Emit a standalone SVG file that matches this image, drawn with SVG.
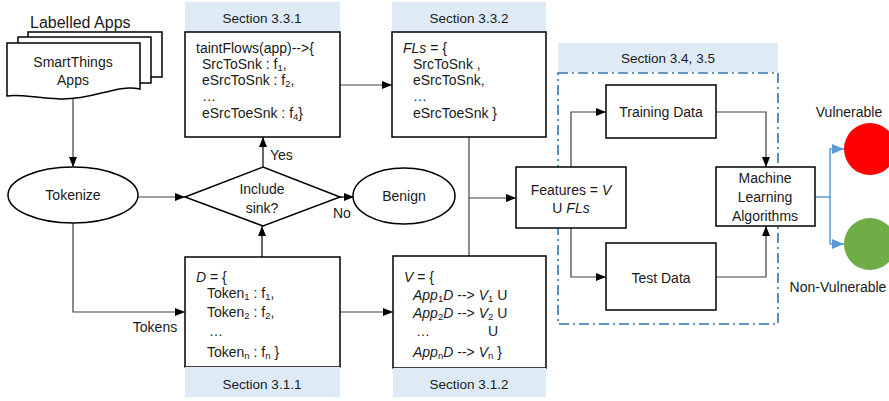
<svg xmlns="http://www.w3.org/2000/svg" width="889" height="401" viewBox="0 0 889 401">
<style>
text{font-family:"Liberation Sans",Arial,sans-serif;font-size:14px;fill:#1a1a1a}
.sec{font-size:13.5px}
.c{text-anchor:middle}
.s{font-size:9.5px}
.box{fill:#fff;stroke:#000;stroke-width:1.5}
.hdr{fill:#deebf7;stroke:none}
.ln{fill:none;stroke:#000;stroke-width:1.2}
.gl{fill:none;stroke:#404040;stroke-width:1.2}
.bl{fill:none;stroke:#5b9bd5;stroke-width:1.5}
.i{font-style:italic}
</style>
<defs>
<marker id="ah" markerUnits="userSpaceOnUse" markerWidth="10" markerHeight="8" refX="10" refY="4" orient="auto"><path d="M0,0 L10,4 L0,8 z" fill="#000"/></marker>
<marker id="ab" markerUnits="userSpaceOnUse" markerWidth="12" markerHeight="10" refX="12" refY="5" orient="auto"><path d="M0,0 L12,5 L0,10 z" fill="#5b9bd5"/></marker>
</defs>

<g id="connectors">
<path class="gl" d="M73,99 V167" marker-end="url(#ah)"/>
<path class="gl" d="M138,197 H185" marker-end="url(#ah)"/>
<path class="ln" d="M263,167 V137" marker-end="url(#ah)"/>
<path class="ln" d="M340,197 H354" marker-end="url(#ah)"/>
<path class="gl" d="M340,85 H392" marker-end="url(#ah)"/>
<path class="gl" d="M73,223 V312 H185" marker-end="url(#ah)"/>
<path class="ln" d="M262,257 V226" marker-end="url(#ah)"/>
<path class="gl" d="M340,312 H393" marker-end="url(#ah)"/>
<path class="gl" d="M469,137 V256"/>
<path class="gl" d="M469,198 H516" marker-end="url(#ah)"/>
<path class="gl" d="M571,167 V112 H606" marker-end="url(#ah)"/>
<path class="gl" d="M571,228 V277 H606" marker-end="url(#ah)"/>
<path class="gl" d="M716,112 H766 V167" marker-end="url(#ah)"/>
<path class="gl" d="M716,277 H766 V226" marker-end="url(#ah)"/>
<path class="bl" d="M815,197 H830 V149 H844" marker-end="url(#ab)"/>
<path class="bl" d="M830,197 V244 H844" marker-end="url(#ab)"/>
<text x="270" y="160">Yes</text>
<text x="333" y="218">No</text>
<text class="c" x="155" y="332">Tokens</text>
</g>

<g id="apps">
<text x="30" y="28" style="font-size:16px">Labelled Apps</text>
<path d="M28,37 V32 H162 V77 H151" fill="#fff" stroke="#000" stroke-width="1.5"/>
<path d="M18,43 V37 H151 V83 H140" fill="#fff" stroke="#000" stroke-width="1.5"/>
<path d="M7,43 H140 V89 C115,84 95,100 60,99 C35,98 20,94 7,96 Z" fill="#fff" stroke="#000" stroke-width="1.5"/>
<text class="c" x="73" y="67">SmartThings</text>
<text class="c" x="73" y="85">Apps</text>
</g>

<g id="tokenize">
<ellipse cx="73" cy="195" rx="65" ry="28" class="box"/>
<text class="c" x="73" y="200">Tokenize</text>
</g>

<g id="include-sink">
<path d="M185,197 L263,167 L340,197 L263,226 Z" class="box"/>
<text class="c" x="262" y="194">Include</text>
<text class="c" x="262" y="213">sink?</text>
</g>

<g id="benign">
<ellipse cx="404" cy="196" rx="51" ry="28" class="box"/>
<text class="c" x="404" y="201">Benign</text>
</g>

<g id="taintflows">
<rect x="185" y="2" width="155" height="30" class="hdr"/>
<text class="c sec" x="262" y="23">Section 3.3.1</text>
<rect x="185" y="32" width="155" height="105" class="box"/>
<text x="196" y="53">taintFlows(app)--&gt;{</text>
<text x="202" y="69">SrcToSnk : f<tspan class="s" dy="2">1</tspan><tspan dy="-2">,</tspan></text>
<text x="202" y="85">eSrcToSnk : f<tspan class="s" dy="2">2</tspan><tspan dy="-2">,</tspan></text>
<text x="202" y="101">…</text>
<text x="202" y="118">eSrcToeSnk : f<tspan class="s" dy="2">4</tspan><tspan dy="-2">}</tspan></text>
</g>

<g id="fls">
<rect x="392" y="2" width="154" height="30" class="hdr"/>
<text class="c sec" x="469" y="23">Section 3.3.2</text>
<rect x="392" y="32" width="154" height="105" class="box"/>
<text x="403" y="53"><tspan class="i">FLs</tspan> = {</text>
<text x="413" y="69">SrcToSnk ,</text>
<text x="413" y="85">eSrcToSnk,</text>
<text x="413" y="101">…</text>
<text x="413" y="118">eSrcToeSnk }</text>
</g>

<g id="d-set">
<rect x="185" y="257" width="155" height="110" class="box"/>
<rect x="185" y="367" width="155" height="30" class="hdr"/>
<text class="c sec" x="262" y="389">Section 3.1.1</text>
<text x="196" y="282"><tspan class="i">D</tspan> = {</text>
<text x="207" y="298">Token<tspan class="s" dy="2">1</tspan><tspan dy="-2"> : f</tspan><tspan class="s" dy="2">1</tspan><tspan dy="-2">,</tspan></text>
<text x="207" y="317">Token<tspan class="s" dy="2">2</tspan><tspan dy="-2"> : f</tspan><tspan class="s" dy="2">2</tspan><tspan dy="-2">,</tspan></text>
<text x="209" y="336">…</text>
<text x="207" y="357">Token<tspan class="s" dy="2">n</tspan><tspan dy="-2"> : f</tspan><tspan class="s" dy="2">n</tspan><tspan dy="-2"> }</tspan></text>
</g>

<g id="v-set">
<rect x="393" y="256" width="153" height="112" class="box"/>
<rect x="393" y="368" width="153" height="29" class="hdr"/>
<text class="c sec" x="469" y="389">Section 3.1.2</text>
<text x="404" y="282"><tspan class="i">V</tspan> = {</text>
<text x="413" y="300"><tspan class="i">App</tspan><tspan class="s" dy="2">1</tspan><tspan class="i" dy="-2">D</tspan> --&gt; <tspan class="i">V</tspan><tspan class="s" dy="2">1</tspan><tspan dy="-2"> U</tspan></text>
<text x="413" y="318"><tspan class="i">App</tspan><tspan class="s" dy="2">2</tspan><tspan class="i" dy="-2">D</tspan> --&gt; <tspan class="i">V</tspan><tspan class="s" dy="2">2</tspan><tspan dy="-2"> U</tspan></text>
<text x="416" y="336">…</text>
<text x="488" y="336">U</text>
<text x="413" y="357"><tspan class="i">App</tspan><tspan class="s" dy="2">n</tspan><tspan class="i" dy="-2">D</tspan> --&gt; <tspan class="i">V</tspan><tspan class="s" dy="2">n</tspan><tspan dy="-2"> }</tspan></text>
</g>

<g id="ml-section">
<rect x="558" y="43" width="220" height="29" class="hdr"/>
<text class="c sec" x="668" y="63">Section 3.4, 3.5</text>
<rect x="558" y="73" width="220" height="251" fill="none" stroke="#2e75b6" stroke-width="1.6" stroke-dasharray="10,4,2,4"/>
</g>

<g id="features">
<rect x="516" y="167" width="110" height="61" class="box"/>
<text class="c" x="571" y="195">Features = <tspan class="i">V</tspan></text>
<text class="c" x="571" y="213">U <tspan class="i">FLs</tspan></text>
</g>

<g id="training">
<rect x="606" y="85" width="110" height="53" class="box"/>
<text class="c" x="661" y="117">Training Data</text>
</g>

<g id="test">
<rect x="606" y="243" width="110" height="67" class="box"/>
<text class="c" x="661" y="283">Test Data</text>
</g>

<g id="ml">
<rect x="716" y="167" width="99" height="59" class="box"/>
<text class="c" x="765" y="183">Machine</text>
<text class="c" x="765" y="202">Learning</text>
<text class="c" x="765" y="221">Algorithms</text>
</g>

<g id="vulnerable">
<text class="c" x="849" y="117">Vulnerable</text>
<circle cx="870" cy="149" r="26" fill="#ff0000"/>
</g>

<g id="non-vulnerable">
<circle cx="870" cy="244" r="26" fill="#70ad47"/>
<text class="c" x="838" y="292">Non-Vulnerable</text>
</g>
</svg>
